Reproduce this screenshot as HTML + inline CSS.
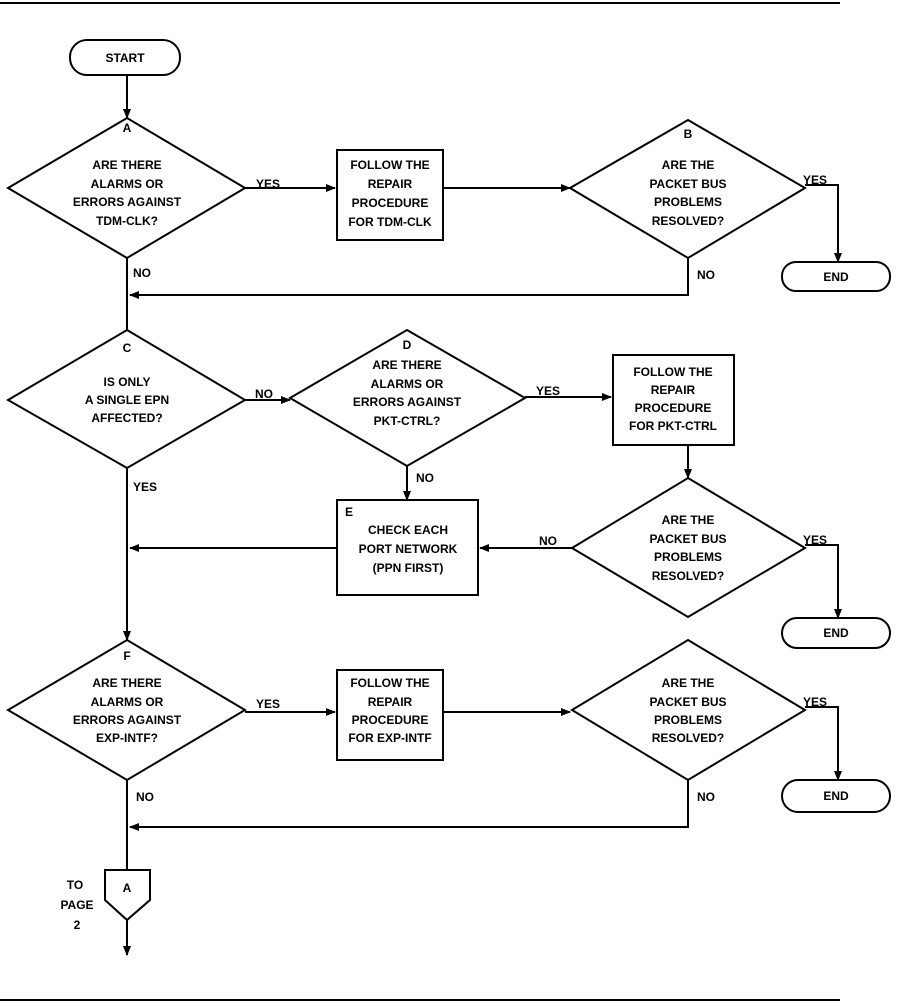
<!DOCTYPE html>
<html><head><meta charset="utf-8"><style>
html,body{margin:0;padding:0;background:#fff}
svg{display:block}
text{font-family:"Liberation Sans",Arial,sans-serif;font-size:12px;font-weight:bold;fill:#000;text-anchor:middle}
.l{text-anchor:start}
</style></head><body>
<svg width="903" height="1004" viewBox="0 0 903 1004" xmlns="http://www.w3.org/2000/svg">
<defs><marker id="a" markerWidth="10" markerHeight="8" refX="9" refY="4" orient="auto" markerUnits="userSpaceOnUse"><path d="M0,0 L10,4 L0,8 z" fill="#000"/></marker></defs>
<g stroke="#000" stroke-width="2" fill="none">
<line x1="0" y1="3" x2="840" y2="3"/>
<line x1="0" y1="1000" x2="840" y2="1000"/>
<rect x="70" y="40" width="110" height="35" rx="17"/>
<line x1="127" y1="75" x2="127" y2="118" marker-end="url(#a)"/>
<polygon points="127,118 245,188 127,258 8,188"/>
<line x1="245" y1="188" x2="335" y2="188" marker-end="url(#a)"/>
<rect x="337" y="150" width="106" height="90"/>
<line x1="443" y1="188" x2="570" y2="188" marker-end="url(#a)"/>
<polygon points="688,120 805,188 688,258 570,188"/>
<polyline points="805,185 838,185 838,262" marker-end="url(#a)"/>
<rect x="782" y="262" width="108" height="29" rx="14"/>
<polyline points="688,258 688,295 130,295" marker-end="url(#a)"/>
<line x1="127" y1="258" x2="127" y2="330"/>
<polygon points="127,330 245,400 127,468 8,400"/>
<line x1="245" y1="400" x2="290" y2="400" marker-end="url(#a)"/>
<polygon points="407,330 525,398 407,466 290,398"/>
<line x1="525" y1="397" x2="611" y2="397" marker-end="url(#a)"/>
<rect x="613" y="355" width="121" height="90"/>
<line x1="688" y1="445" x2="688" y2="478" marker-end="url(#a)"/>
<polygon points="688,478 805,548 688,617 572,548"/>
<polyline points="805,545 838,545 838,618" marker-end="url(#a)"/>
<rect x="782" y="618" width="108" height="30" rx="15"/>
<line x1="572" y1="548" x2="480" y2="548" marker-end="url(#a)"/>
<rect x="337" y="500" width="141" height="95"/>
<line x1="407" y1="466" x2="407" y2="500" marker-end="url(#a)"/>
<line x1="337" y1="548" x2="130" y2="548" marker-end="url(#a)"/>
<line x1="127" y1="468" x2="127" y2="640" marker-end="url(#a)"/>
<polygon points="127,640 245,710 127,780 8,710"/>
<line x1="245" y1="712" x2="335" y2="712" marker-end="url(#a)"/>
<rect x="337" y="670" width="106" height="90"/>
<line x1="443" y1="712" x2="570" y2="712" marker-end="url(#a)"/>
<polygon points="688,640 805,710 688,780 572,710"/>
<polyline points="805,707 838,707 838,780" marker-end="url(#a)"/>
<rect x="782" y="780" width="108" height="32" rx="16"/>
<polyline points="688,780 688,827 130,827" marker-end="url(#a)"/>
<line x1="127" y1="780" x2="127" y2="870"/>
<polygon points="105,870 150,870 150,900 127,920 105,900"/>
<line x1="127" y1="920" x2="127" y2="955" marker-end="url(#a)"/>
</g>
<text x="125" y="62">START</text>
<text x="127" y="132">A</text>
<text x="127" y="169">ARE THERE</text><text x="127" y="188">ALARMS OR</text><text x="127" y="206">ERRORS AGAINST</text><text x="127" y="225">TDM-CLK?</text>
<text x="268" y="188">YES</text>
<text x="390" y="169">FOLLOW THE</text><text x="390" y="188">REPAIR</text><text x="390" y="207">PROCEDURE</text><text x="390" y="226">FOR TDM-CLK</text>
<text x="688" y="138">B</text>
<text x="688" y="169">ARE THE</text><text x="688" y="188">PACKET BUS</text><text x="688" y="206">PROBLEMS</text><text x="688" y="225">RESOLVED?</text>
<text x="815" y="184">YES</text>
<text x="836" y="281">END</text>
<text x="706" y="279">NO</text>
<text x="142" y="277">NO</text>
<text x="127" y="352">C</text>
<text x="127" y="386">IS ONLY</text><text x="127" y="404">A SINGLE EPN</text><text x="127" y="422">AFFECTED?</text>
<text x="264" y="398">NO</text>
<text x="407" y="349">D</text>
<text x="407" y="369">ARE THERE</text><text x="407" y="388">ALARMS OR</text><text x="407" y="406">ERRORS AGAINST</text><text x="407" y="425">PKT-CTRL?</text>
<text x="548" y="395">YES</text>
<text x="673" y="376">FOLLOW THE</text><text x="673" y="394">REPAIR</text><text x="673" y="412">PROCEDURE</text><text x="673" y="430">FOR PKT-CTRL</text>
<text x="425" y="482">NO</text>
<text x="688" y="524">ARE THE</text><text x="688" y="543">PACKET BUS</text><text x="688" y="561">PROBLEMS</text><text x="688" y="580">RESOLVED?</text>
<text x="815" y="544">YES</text>
<text x="836" y="637">END</text>
<text x="548" y="545">NO</text>
<text x="349" y="516">E</text>
<text x="408" y="534">CHECK EACH</text><text x="408" y="553">PORT NETWORK</text><text x="408" y="572">(PPN FIRST)</text>
<text x="145" y="491">YES</text>
<text x="127" y="660">F</text>
<text x="127" y="687">ARE THERE</text><text x="127" y="706">ALARMS OR</text><text x="127" y="724">ERRORS AGAINST</text><text x="127" y="742">EXP-INTF?</text>
<text x="268" y="708">YES</text>
<text x="390" y="687">FOLLOW THE</text><text x="390" y="706">REPAIR</text><text x="390" y="724">PROCEDURE</text><text x="390" y="742">FOR EXP-INTF</text>
<text x="688" y="687">ARE THE</text><text x="688" y="706">PACKET BUS</text><text x="688" y="724">PROBLEMS</text><text x="688" y="742">RESOLVED?</text>
<text x="815" y="706">YES</text>
<text x="836" y="800">END</text>
<text x="706" y="801">NO</text>
<text x="145" y="801">NO</text>
<text x="127" y="892">A</text>
<text x="75" y="889">TO</text><text x="77" y="909">PAGE</text><text x="77" y="929">2</text>
</svg>
</body></html>
